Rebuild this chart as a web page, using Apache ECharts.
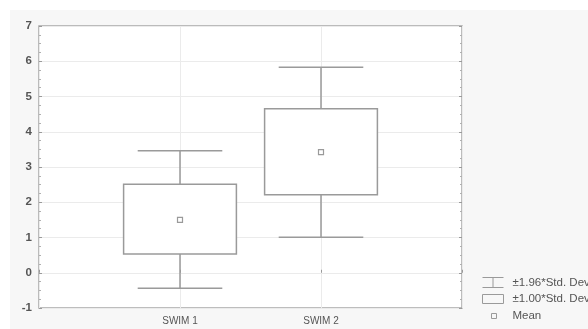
<!DOCTYPE html>
<html>
<head>
<meta charset="utf-8">
<script src="https://cdn.jsdelivr.net/npm/echarts@6/dist/echarts.min.js"></script>
<style>
html,body{margin:0;padding:0;background:#fff;}
#c{width:588px;height:329px;}
</style>
</head>
<body>
<div id="c"></div>
<script>
const categories = ['SWIM 1', 'SWIM 2'];
const means = [1.50, 3.42];
const sd1Low = [0.53, 2.21];
const sd1High = [2.51, 4.65];
const sd196Low = [-0.44, 1.01];
const sd196High = [3.46, 5.83];
const yTicks = [-1, 0, 1, 2, 3, 4, 5, 6, 7];
const legendNames = ['±1.96*Std. Dev.', '±1.00*Std. Dev.', 'Mean'];

const LINE = '#9a9a9a';
const pos = categories.map((c, i) => i + 1);

const whiskerData = pos.map((p, i) => [p, sd196Low[i], sd196High[i], sd1Low[i], sd1High[i]]);
const boxData = pos.map((p, i) => [p, sd1Low[i], sd1High[i]]);
const meanData = pos.map((p, i) => [p, means[i]]);

const legText = { color: '#555', fontFamily: 'Liberation Sans, Arial', fontSize: 11.5, lineHeight: 12 };

const chart = echarts.init(document.getElementById('c'));
chart.setOption({
  animation: false,
  backgroundColor: '#ffffff',
  graphic: [{
    type: 'rect', z: -10, silent: true,
    shape: { x: 10, y: 10, width: 578, height: 319 },
    style: { fill: '#f7f7f7' }
  }],
  grid: {
    left: 39, top: 26, right: 126, bottom: 21,
    show: true, backgroundColor: '#ffffff', borderColor: '#a8a8a8', borderWidth: 1.5
  },
  xAxis: {
    type: 'value', min: 0, max: 3, interval: 1,
    axisLine: { show: false },
    axisTick: { show: true, inside: true, length: 3, lineStyle: { color: LINE } },
    splitLine: { show: true, lineStyle: { color: '#ebebeb', width: 1 } },
    axisLabel: {
      color: '#555', fontFamily: 'Liberation Sans, Arial', fontSize: 10, margin: 8,
      formatter: v => (v >= 1 && v <= categories.length) ? categories[v - 1] : ''
    }
  },
  yAxis: [{
    type: 'value', min: yTicks[0], max: yTicks[yTicks.length - 1], interval: 1,
    axisLine: { show: false },
    axisTick: { show: true, inside: true, length: 3, lineStyle: { color: LINE } },
    minorTick: { show: true, splitNumber: 4, length: 2, lineStyle: { color: '#b0b0b0' } },
    splitLine: { show: true, lineStyle: { color: '#ebebeb', width: 1 } },
    axisLabel: { color: '#555', fontFamily: 'Liberation Sans, Arial', fontSize: 11.5, fontWeight: 'bold', margin: 7 }
  }, {
    type: 'value', position: 'right', min: yTicks[0], max: yTicks[yTicks.length - 1], interval: 1,
    axisLine: { show: false },
    axisTick: { show: true, inside: true, length: 3, lineStyle: { color: LINE } },
    minorTick: { show: true, splitNumber: 4, length: 2, lineStyle: { color: '#b0b0b0' } },
    splitLine: { show: false },
    axisLabel: { show: false }
  }],
  legend: [{
    orient: 'vertical', left: 480, top: 275, padding: 0, itemWidth: 21, itemHeight: 10,
    textStyle: Object.assign({ padding: [0, 0, 0, 4] }, legText),
    selectedMode: false,
    data: [{ name: legendNames[0], icon: 'path://M0,0H21M10.5,0V10M0,10H21',
        itemStyle: { color: 'none', borderColor: LINE, borderWidth: 1 } }]
  }, {
    orient: 'vertical', left: 480, top: 292, padding: 0, itemWidth: 21, itemHeight: 9,
    textStyle: Object.assign({ padding: [0, 0, 0, 4] }, legText),
    selectedMode: false,
    data: [{ name: legendNames[1], icon: 'rect',
        itemStyle: { color: 'none', borderColor: LINE, borderWidth: 1 } }]
  }, {
    orient: 'vertical', left: 489, top: 310, padding: 0, itemWidth: 5, itemHeight: 5,
    textStyle: Object.assign({ padding: [0, 0, 0, 11] }, legText),
    selectedMode: false,
    data: [{ name: legendNames[2], icon: 'rect', itemStyle: { color: 'none', borderColor: LINE, borderWidth: 1 } }]
  }],
  series: [{
    name: legendNames[0], type: 'custom', data: whiskerData,
    itemStyle: { color: LINE },
    renderItem: function (params, api) {
      const x = api.value(0);
      const lo = api.coord([x, api.value(1)]);
      const hi = api.coord([x, api.value(2)]);
      const bl = api.coord([x, api.value(3)]);
      const bh = api.coord([x, api.value(4)]);
      const half = api.size([0.3, 0])[0];
      const st = { stroke: LINE, lineWidth: 1.5 };
      return { type: 'group', children: [
        { type: 'line', shape: { x1: hi[0], y1: hi[1], x2: bh[0], y2: bh[1] }, style: st },
        { type: 'line', shape: { x1: lo[0], y1: lo[1], x2: bl[0], y2: bl[1] }, style: st },
        { type: 'line', shape: { x1: hi[0] - half, y1: hi[1], x2: hi[0] + half, y2: hi[1] }, style: st },
        { type: 'line', shape: { x1: lo[0] - half, y1: lo[1], x2: lo[0] + half, y2: lo[1] }, style: st }
      ]};
    }
  }, {
    name: legendNames[1], type: 'custom', data: boxData,
    itemStyle: { color: LINE },
    renderItem: function (params, api) {
      const x = api.value(0);
      const a = api.coord([x, api.value(2)]);
      const b = api.coord([x, api.value(1)]);
      const half = api.size([0.4, 0])[0];
      return { type: 'rect',
        shape: { x: a[0] - half, y: a[1], width: half * 2, height: b[1] - a[1] },
        style: { fill: '#ffffff', stroke: LINE, lineWidth: 1.5 } };
    }
  }, {
    name: legendNames[2], type: 'custom', data: meanData,
    itemStyle: { color: LINE },
    renderItem: function (params, api) {
      const p = api.coord([api.value(0), api.value(1)]);
      return { type: 'rect',
        shape: { x: p[0] - 2.5, y: p[1] - 2.5, width: 5, height: 5 },
        style: { fill: '#ffffff', stroke: LINE, lineWidth: 1.2 } };
    }
  }]
});
</script>
</body>
</html>
